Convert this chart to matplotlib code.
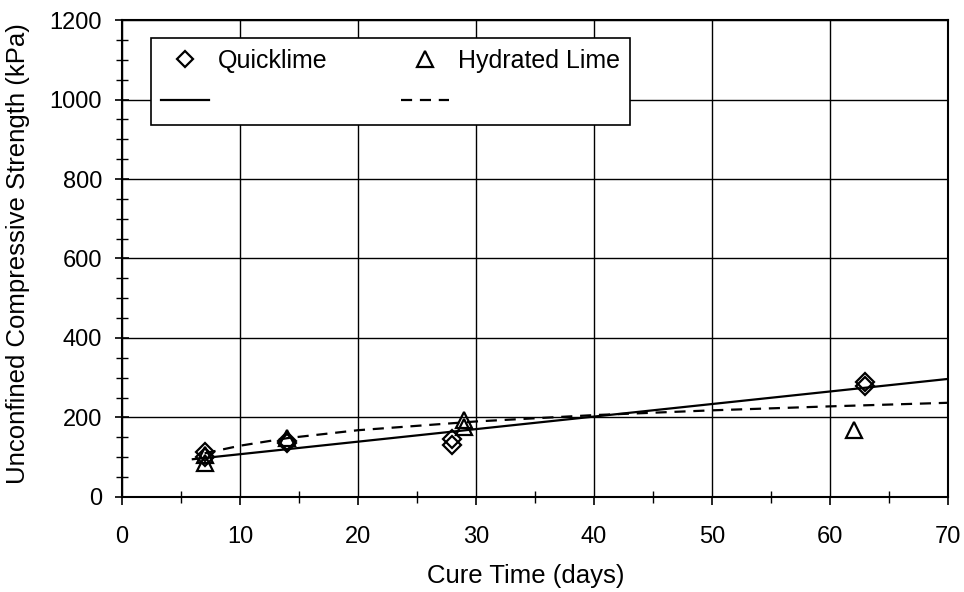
import matplotlib
matplotlib.use("Agg")
import matplotlib.pyplot as plt
from matplotlib.lines import Line2D
from matplotlib.ticker import MultipleLocator

plt.rcParams['font.family'] = ['Liberation Sans', 'DejaVu Sans']

# Data
quick_x = [7, 7, 14, 14, 28, 28, 63, 63]
quick_y = [112, 100, 140, 135, 145, 132, 290, 278]
hyd_x = [7, 7, 14, 29, 29, 62]
hyd_y = [85, 105, 148, 194, 177, 168]
quick_fit_x = [6, 70]
quick_fit_y = [95, 297]
hyd_fit_x = [7, 10, 14, 20, 30, 40, 50, 60, 70]
hyd_fit_y = [110, 129, 148, 168, 190, 206, 218, 228, 237]

fig = plt.figure(figsize=(9.64, 5.92), dpi=100)
ax = fig.add_axes([0.1266, 0.1605, 0.8568, 0.8057])

dash = (0, (5, 3.5))
ax.plot(quick_fit_x, quick_fit_y, color='black', lw=1.6, ls='-', zorder=3)
ax.plot(hyd_fit_x, hyd_fit_y, color='black', lw=1.6, ls=dash, zorder=3)
ax.plot(quick_x, quick_y, ls='none', marker='D', ms=9, mfc='none', mec='black', mew=1.6, zorder=4)
ax.plot(hyd_x, hyd_y, ls='none', marker='^', ms=12, mfc='none', mec='black', mew=1.6, zorder=4)

ax.set_xlim(0, 70)
ax.set_ylim(0, 1200)
ax.xaxis.set_major_locator(MultipleLocator(10))
ax.xaxis.set_minor_locator(MultipleLocator(5))
ax.yaxis.set_major_locator(MultipleLocator(200))
ax.yaxis.set_minor_locator(MultipleLocator(50))
ax.grid(True, which='major', color='black', lw=1.0)
ax.set_axisbelow(True)
for s in ax.spines.values():
    s.set_linewidth(1.5)
    s.set_color('black')

ax.tick_params(axis='y', which='major', direction='inout', length=10, width=1.2, labelsize=17, pad=9.5)
ax.tick_params(axis='y', which='minor', direction='inout', length=8, width=1.0)
ax.tick_params(axis='x', which='major', direction='out', length=6, width=1.2, labelsize=17, pad=15)
ax.tick_params(axis='x', which='minor', direction='inout', length=8, width=1.0)

ax.set_xlabel('Cure Time (days)', fontsize=18.5)
ax.set_ylabel('Unconfined Compressive Strength (kPa)', fontsize=18.5)
ax.xaxis.set_label_coords(0.489, -0.140)
ax.yaxis.set_label_coords(-0.111, 0.51)

handles = [
    Line2D([], [], ls='none', marker='D', ms=8.5, mfc='none', mec='black', mew=1.6),
    Line2D([], [], color='black', lw=1.6, ls='-'),
    Line2D([], [], ls='none', marker='^', ms=12, mfc='none', mec='black', mew=1.6),
    Line2D([], [], color='black', lw=1.6, ls=dash),
]
labels = ['Quicklime', ' ', 'Hydrated Lime', ' ']
leg = ax.legend(handles, labels, ncol=2, loc='upper left',
                bbox_to_anchor=(0.035, 0.962, 0.58, 0.0), mode='expand',
                borderaxespad=0, fontsize=18, handlelength=1.9, handletextpad=0.35,
                labelspacing=0.7, borderpad=0.42, fancybox=False, framealpha=1,
                edgecolor='black')
leg.get_frame().set_linewidth(1.2)

fig.savefig('out.png', dpi=100, facecolor='white')
